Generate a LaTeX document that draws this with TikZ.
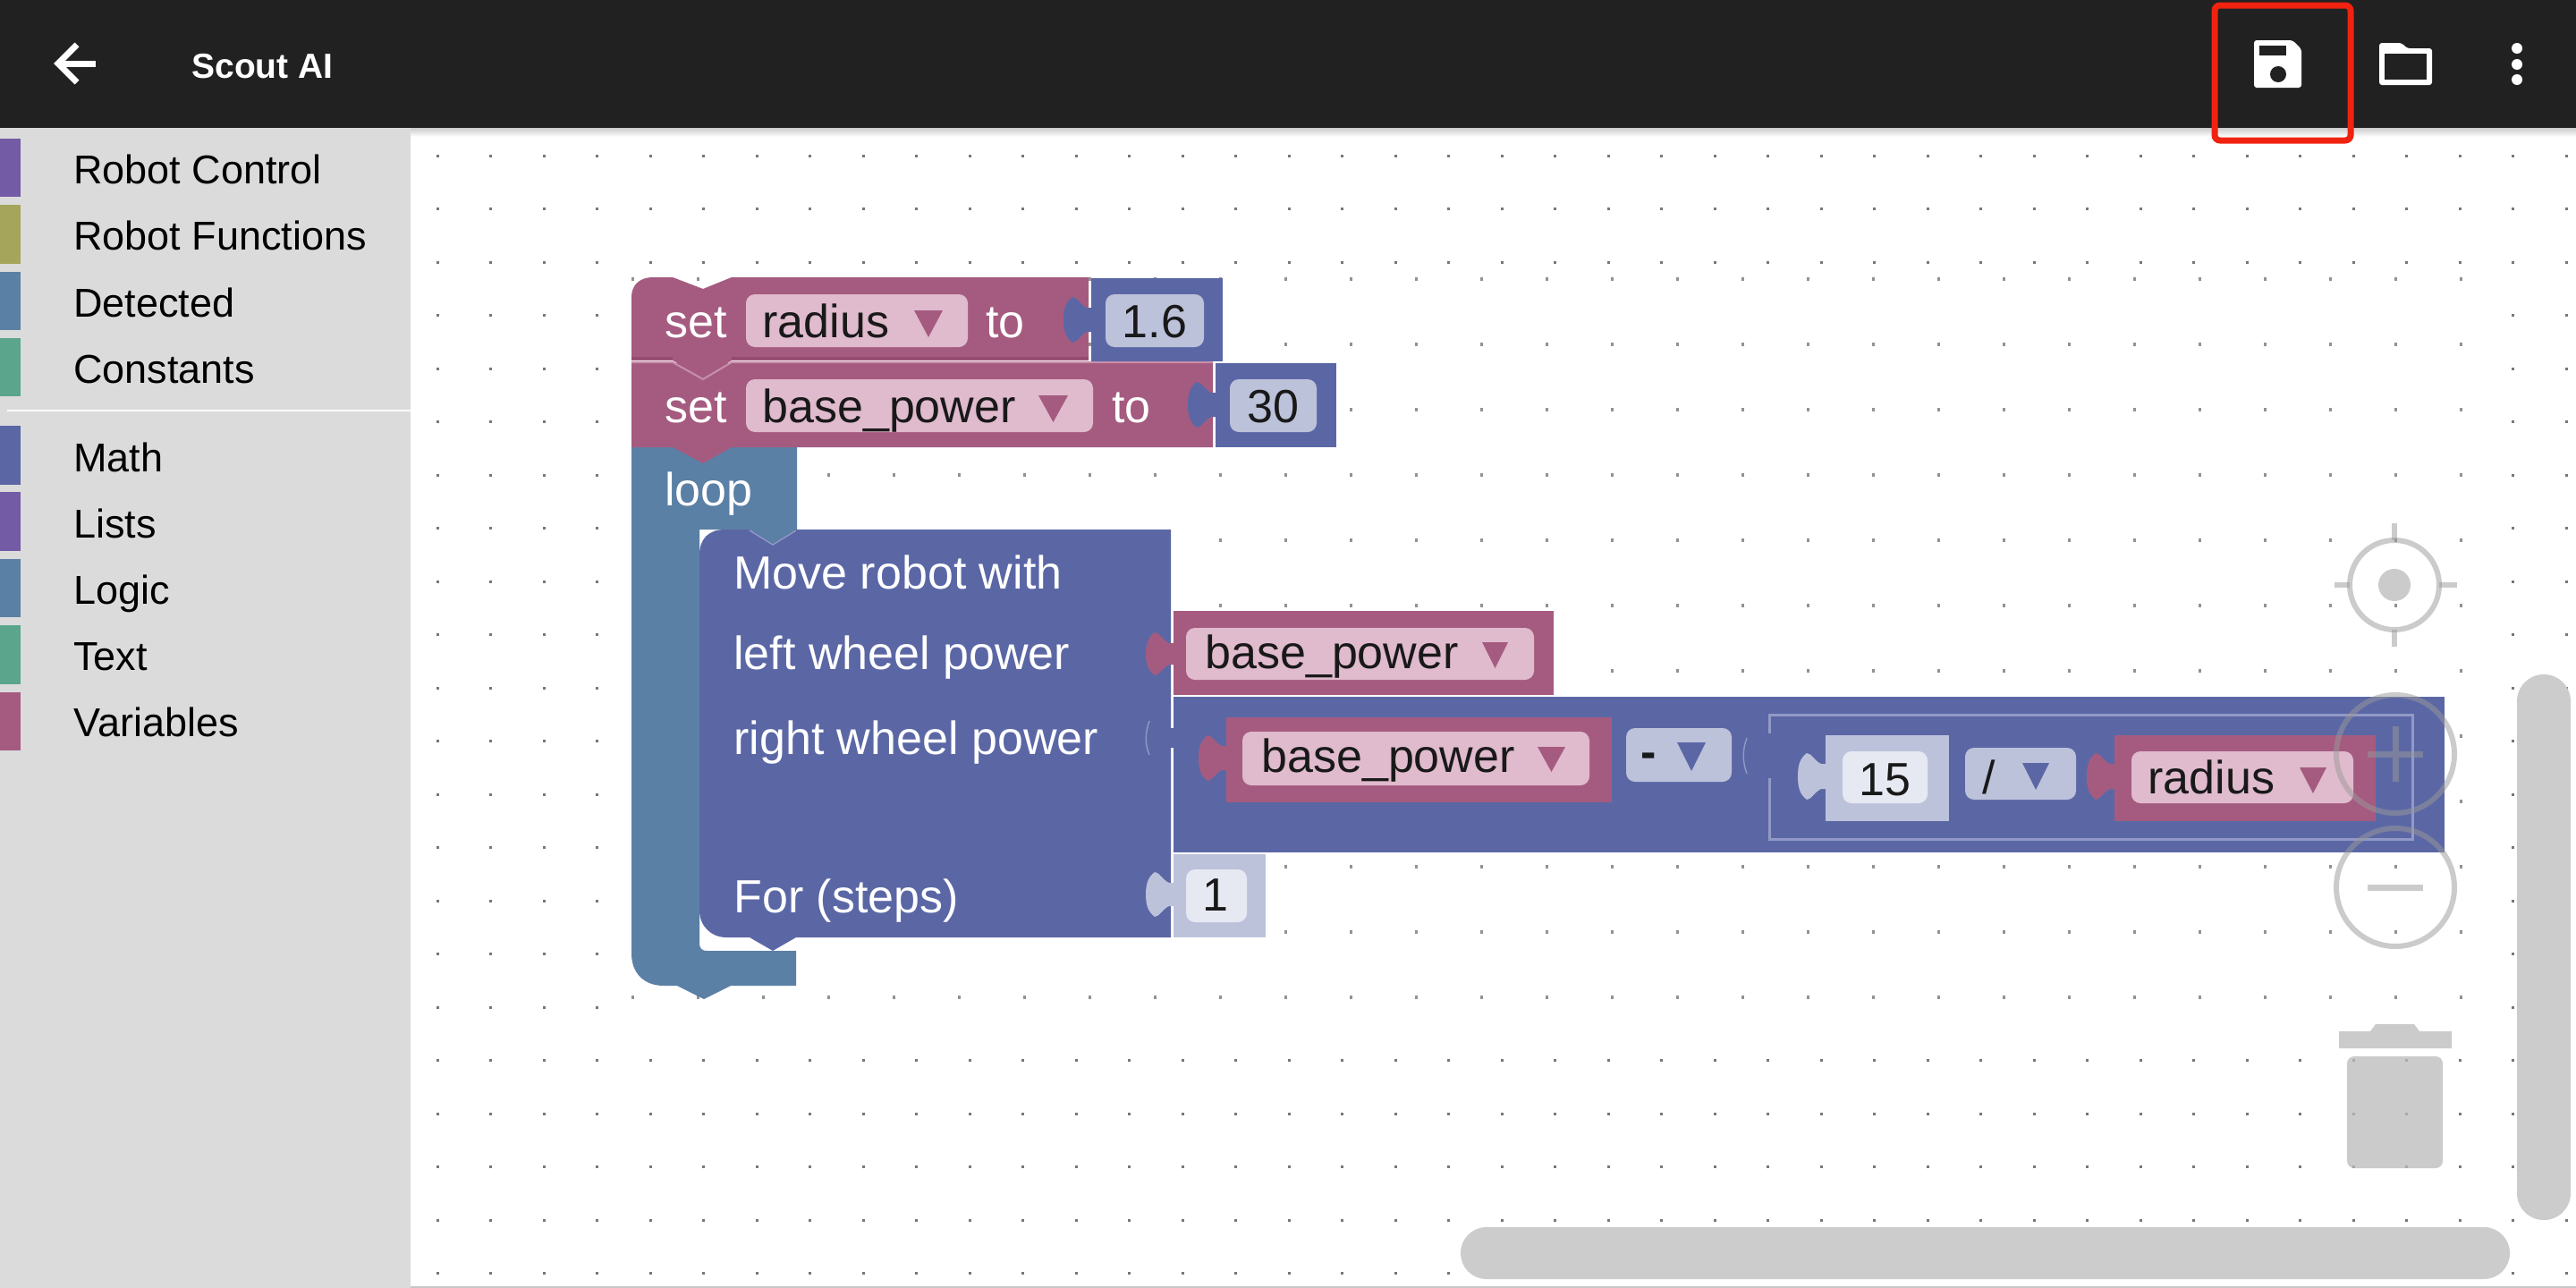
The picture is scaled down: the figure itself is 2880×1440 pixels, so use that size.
\documentclass[tikz,border=0pt]{standalone}
\usepackage{fontspec}
\setmainfont{Liberation Sans}
\definecolor{hdr}{HTML}{212121}
\definecolor{side}{HTML}{DBDBDB}
\definecolor{vmag}{HTML}{A55B80}
\definecolor{vmagd}{HTML}{954A70}
\definecolor{vmagl}{HTML}{C88FAB}
\definecolor{vblue}{HTML}{5B67A5}
\definecolor{vbluel}{HTML}{9299C6}
\definecolor{vloop}{HTML}{5B80A5}
\definecolor{vpur}{HTML}{745BA5}
\definecolor{vol}{HTML}{A5A55B}
\definecolor{vteal}{HTML}{5BA58C}
\definecolor{fmag}{HTML}{E0BACD}
\definecolor{fblue}{HTML}{BDC2DB}
\definecolor{fpale}{HTML}{E6E8F2}
\definecolor{redbox}{HTML}{F02210}
\definecolor{ctl}{HTML}{999999}
\definecolor{dotc}{HTML}{777777}
\tikzset{
  sidetxt/.style={inner sep=0pt,anchor=base west,text=black,font=\fontsize{22.5}{26}\selectfont},
  blocktxt/.style={inner sep=0pt,anchor=base west,text=white,font=\fontsize{26}{30}\selectfont},
  fieldtxt/.style={inner sep=0pt,anchor=base west,text=black!90,font=\fontsize{26}{30}\selectfont},
  numtxt/.style={inner sep=0pt,anchor=base,text=black!90,font=\fontsize{26}{30}\selectfont},
  fieldbox/.style={rounded corners=5pt},
  ctlline/.style={draw=ctl,draw opacity=.5,line width=3pt},
}
% puzzle tab: x of block edge, y top, y bottom, colour
\newcommand\puzzle[4]{\fill[#4] (#1+1,#2+12) -- (#1-5,#2+12)
  .. controls (#1-12,#2+9) and (#1-16,#2) .. (#1-21,#2)
  .. controls (#1-29,#2+6) and (#1-31,#2+14) .. (#1-31,#2+26)
  -- (#1-31,#3-26)
  .. controls (#1-31,#3-14) and (#1-29,#3-6) .. (#1-21,#3)
  .. controls (#1-16,#3) and (#1-12,#3-9) .. (#1-5,#3-12)
  -- (#1+1,#3-12) -- cycle;}
\newcommand\dtri[5]{\fill[#5] (#1,#3) -- (#2,#3) -- ({(#1+#2)/2},#4) -- cycle;}
\begin{document}
\begin{tikzpicture}[x=0.5pt,y=-0.5pt]
\useasboundingbox (0,0) rectangle (2880,1440);
\fill[white] (0,0) rectangle (2880,1440);
% base grid
\foreach \i in {0,...,21}{\foreach \j in {0,...,40}{
  \fill[dotc] ({489+59.5*\j-1.5},{174+59.5*\i-1.5}) rectangle +(3,3);}}
\fill[white] (690,300) rectangle (2780,1150);
% pasted grid
\foreach \i in {0,...,11}{\foreach \j in {0,...,28}{
  \fill[dotc!80] ({707+73*\j-1.5},{312+73*\i-2}) rectangle +(3,4);}}
% header and side panel
\fill[top color=black!20,bottom color=white] (459,143) rectangle (2880,153);
\fill[side] (0,143) rectangle (459,1440);
\fill[hdr] (0,0) rectangle (2880,143);
\fill[white!90!side] (8,458) rectangle (459,460);
\fill[vpur] (0,155) rectangle (23,220);
\fill[vol] (0,229) rectangle (23,295);
\fill[vloop] (0,304) rectangle (23,369);
\fill[vteal] (0,378) rectangle (23,443);
\fill[vblue] (0,476) rectangle (23,542);
\fill[vpur] (0,550) rectangle (23,616);
\fill[vloop] (0,625) rectangle (23,690);
\fill[vteal] (0,699) rectangle (23,765);
\fill[vmag] (0,774) rectangle (23,839);
\node[sidetxt] (s1) at (82,205) {Robot Control};
\node[sidetxt] (s2) at (82,279) {Robot Functions};
\node[sidetxt] (s3) at (82,354) {Detected};
\node[sidetxt] (s4) at (82,428) {Constants};
\node[sidetxt] (s5) at (82,527) {Math};
\node[sidetxt] (s6) at (82,601) {Lists};
\node[sidetxt] (s7) at (82,675) {Logic};
\node[sidetxt] (s8) at (82,749) {Text};
\node[sidetxt] (s9) at (82,823) {Variables};
% top bar items
\draw[white,line width=3.5pt] (107,71) -- (65,71);
\draw[white,line width=3.5pt] (86,50) -- (65,71) -- (86,92);
\node[inner sep=0pt,anchor=base west,text=white,font=\bfseries\fontsize{19.5}{23}\selectfont] (title) at (214,87) {Scout AI};
% save icon
\fill[white,rounded corners=1.5pt] (2520,45) -- (2563,45) -- (2573,55) -- (2573,98) -- (2520,98) -- cycle;
\fill[hdr] (2526,51) rectangle (2556,62);
\fill[hdr] (2547,83) circle[radius=9];
% folder icon
\fill[white,rounded corners=1.5pt] (2660,95) -- (2660,48) -- (2685,48) -- (2691,54) -- (2719,54) -- (2719,95) -- cycle;
\fill[hdr] (2666,60) rectangle (2713,89);
% menu dots
\fill[white] (2814,54) circle[radius=6] (2814,72) circle[radius=6] (2814,89) circle[radius=6];
\draw[redbox,line width=3.5pt,rounded corners=3pt] (2476,6) rectangle (2628,157);

% loop block
\fill[vloop] (706,500) -- (891,500) -- (891,592) -- (864,610) -- (838,592) -- (782,592)
  -- (782,1055) .. controls (782,1060) and (785,1063) .. (790,1063) -- (890,1063) -- (890,1102)
  -- (817,1102) -- (787,1117) -- (757,1102) -- (742,1102)
  .. controls (720,1102) and (706,1088) .. (706,1066) -- cycle;
\node[blocktxt] (tloop) at (743,565) {loop};

% set base_power
\puzzle{1359}{427}{478}{vblue}
\fill[vblue] (1359,406) rectangle (1494,500);
\fill[fblue,fieldbox] (1375,424) rectangle (1472,483);
\fill[vmag] (706,406) -- (1356,406) -- (1356,500) -- (818,500) -- (786,518) -- (752,500) -- (706,500) -- cycle;
\puzzle{1359}{427}{478}{vblue}
\fill[fmag,fieldbox] (834,424) rectangle (1222,483);
\dtri{1161}{1194}{442}{472}{vmag}
\node[blocktxt] (set2) at (743,472) {set};
\node[fieldtxt] (bp1) at (852,472) {base\_power};
\node[blocktxt] (to2) at (1243,472) {to};
\node[numtxt] (n30) at (1423,472) {30};

% set radius
\fill[vblue] (1220,311) rectangle (1367,404);
\fill[fblue,fieldbox] (1236,329) rectangle (1346,388);
\fill[vmag] (706,332) .. controls (706,318) and (716,310) .. (730,310) -- (752,310) -- (786,323) -- (818,310) -- (1217,310)
  -- (1217,403) -- (818,403) -- (786,423) -- (752,403) -- (706,403) -- cycle;
\puzzle{1220}{332}{383}{vblue}
\draw[vmagd,line width=1.5pt] (706,400) -- (752,400);
\draw[vmagd,line width=1.5pt] (818,400) -- (1217,400);
\draw[vmagl,line width=1pt] (706,405) -- (752,405) -- (786,424) -- (818,405) -- (1356,405);
\fill[fmag,fieldbox] (834,329) rectangle (1082,388);
\dtri{1022}{1054}{347}{377}{vmag}
\node[blocktxt] (set1) at (743,377) {set};
\node[fieldtxt] (rad1) at (852,377) {radius};
\node[blocktxt] (to1) at (1102,377) {to};
\node[numtxt] (n16) at (1291,377) {1.6};

% Move robot block
\fill[vblue] (782,620) .. controls (782,603) and (792,592) .. (810,592) -- (838,592) -- (864,608) -- (890,592) -- (1309,592)
  -- (1309,1048) -- (890,1048) -- (864,1063) -- (838,1048) -- (812,1048)
  .. controls (795,1048) and (782,1035) .. (782,1018) -- cycle;
\draw[vbluel,line width=.7pt] (838,593) -- (864,609) -- (890,593);
\node[blocktxt] (m1) at (820,658) {Move robot with};
\node[blocktxt] (m2) at (820,748) {left wheel power};
\node[blocktxt] (m3) at (820,843) {right wheel power};
\node[blocktxt] (m4) at (820,1020) {For (steps)};

% left wheel: base_power
\fill[vmag] (1312,683) rectangle (1737,777);
\puzzle{1312}{707}{755}{vmag}
\fill[fmag,fieldbox] (1326,702) rectangle (1715,760);
\dtri{1657}{1686}{718}{747}{vmag}
\node[fieldtxt] (bp2) at (1347,747) {base\_power};

% right wheel expression
\fill[vblue] (1312,779) rectangle (2733,953);
\puzzle{1312}{802}{848}{vblue}
\draw[vbluel,line width=.7pt] (1285,806) .. controls (1280,820) and (1280,832) .. (1285,844);
\fill[vmag] (1371,802) rectangle (1802,897);
\puzzle{1371}{822}{873}{vmag}
\fill[fmag,fieldbox] (1389,818) rectangle (1777,878);
\dtri{1719}{1750}{835}{863}{vmag}
\node[fieldtxt] (bp3) at (1410,863) {base\_power};
\fill[fblue,fieldbox] (1818,814) rectangle (1936,874);
\node[numtxt] (minus) at (1843,858) {\textbf{-}};
\dtri{1875}{1907}{830}{862}{vblue}

% inner expression
\draw[vbluel,line width=1.5pt] (1978,820) -- (1978,799) -- (2697,799) -- (2697,938) -- (1978,938) -- (1978,870);
\puzzle{1978}{819}{871}{vblue}
\draw[vbluel,line width=.7pt] (1953,825) .. controls (1948,838) and (1948,852) .. (1953,865);
\fill[fblue] (2041,822) rectangle (2179,918);
\puzzle{2041}{842}{894}{fblue}
\fill[fpale,fieldbox] (2060,840) rectangle (2155,898);
\node[numtxt] (n15) at (2107,889) {15};
\fill[fblue,fieldbox] (2197,836) rectangle (2321,894);
\node[numtxt] (slash) at (2224,887) {/};
\dtri{2261}{2291}{853}{883}{vblue}
\fill[vmag] (2364,822) rectangle (2656,918);
\puzzle{2364}{842}{894}{vmag}
\fill[fmag,fieldbox] (2383,840) rectangle (2631,898);
\dtri{2571}{2601}{858}{887}{vmag}
\node[fieldtxt] (rad2) at (2401,887) {radius};

% For steps value
\fill[fblue] (1312,955) rectangle (1415,1048);
\puzzle{1312}{975}{1025}{fblue}
\fill[fpale,fieldbox] (1326,972) rectangle (1394,1031);
\node[numtxt] (n1) at (1359,1018) {1};

% zoom and centre controls
\draw[ctlline] (2677,654) circle[radius=50];
\fill[ctl,opacity=.5] (2677,654) circle[radius=18];
\draw[ctlline] (2677,585) -- (2677,604) (2677,704) -- (2677,723) (610,654) ++(2000,0) -- (2627,654) (2727,654) -- (2747,654);
\draw[ctlline] (2678,843) circle[radius=66];
\draw[ctlline,line width=3.5pt] (2647,843) -- (2709,843) (2678,812) -- (2678,874);
\draw[ctlline] (2678,992) circle[radius=66];
\draw[ctlline,line width=3.5pt] (2647,992) -- (2709,992);
% trash
\fill[black!27,opacity=.75] (2615,1153) -- (2650,1153) -- (2656,1145) -- (2699,1145) -- (2705,1153) -- (2741,1153) -- (2741,1172) -- (2615,1172) -- cycle;
\fill[black!27,opacity=.75,rounded corners=4pt] (2624,1181) -- (2731,1181) -- (2731,1306) -- (2624,1306) -- cycle;
% scrollbars
\fill[black!20,rounded corners=14.9pt] (2814,754) rectangle (2874,1364);
\fill[black!20,rounded corners=14.4pt] (1633,1372) rectangle (2806,1430);
\fill[black!22] (0,1438) rectangle (2880,1440);
\fill[side] (0,1438) rectangle (459,1440);
\end{tikzpicture}
\end{document}
